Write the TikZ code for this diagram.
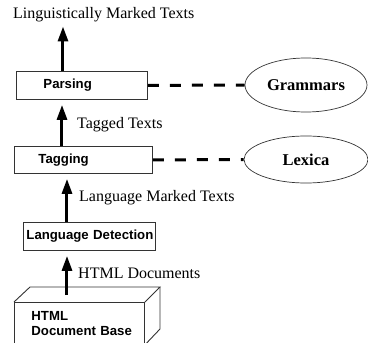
\documentclass[tikz,border=0pt]{standalone}
\usepackage{fontspec}
\setmainfont{Liberation Serif}
\setsansfont{Liberation Sans}
\usetikzlibrary{arrows.meta,shapes.geometric,calc}
\begin{document}
\begin{tikzpicture}[x=1pt,y=-1pt,
  proc/.style={draw=black!80, line width=0.9pt, inner xsep=0pt, inner ysep=0pt, align=left,
    font=\fontsize{13.2}{15}\selectfont\sffamily\bfseries},
  lbl/.style={anchor=west, inner sep=0pt, font=\fontsize{16}{19}\selectfont},
  res/.style={draw=black!80, line width=0.7pt, ellipse, inner sep=0pt,
    font=\fontsize{16.5}{19}\selectfont\bfseries},
  flow/.style={line width=3pt, -{Triangle[width=10pt,length=15pt]}},
  link/.style={line width=3pt, dash pattern=on 11pt off 11pt}]
\useasboundingbox (0,0) rectangle (368,343);

% title
\node[lbl] (title) at (13,15) {Linguistically Marked Texts};

% process boxes
\node[proc, text width=131pt, minimum height=28pt, anchor=north west] (parse) at (16,71) {\hspace*{27pt}Parsing};
\node[proc, text width=138pt, minimum height=27pt, anchor=north west] (tag) at (14,146) {\hspace*{24pt}Tagging};
\node[proc, text width=132pt, minimum height=28pt, anchor=north west] (ld) at (23,222) {\hspace*{3pt}Language Detection};

% resources
\node[res, minimum width=122pt, minimum height=54pt] (gram) at (306,85) {Grammars};
\node[res, minimum width=124pt, minimum height=47pt] (lex) at (306,159.5) {Lexica};

% document base (3D box)
\node[proc, text width=130pt, minimum height=42pt, anchor=north west] (db) at (14,302)
  {\hspace*{17pt}HTML\\\hspace*{17pt}Document Base};
\draw[draw=black!80, line width=0.9pt] (db.north west) -- ++(16,-15) coordinate (tl)
  -- ++(130,0) coordinate (tr) -- (db.north east);
\draw[draw=black!80, line width=0.9pt] (tr) -- ++(0,42) -- (db.south east);

% dashed links
\draw[link] (parse.east) -- (gram.west);
\draw[link] (tag.east) -- (lex.west);

% flow arrows
\coordinate (a1s) at ([xshift=47pt]parse.north west);
\draw[flow, shorten >=4pt] (a1s) -- (a1s |- title.south);
\coordinate (a2s) at ([xshift=48pt]tag.north west);
\draw[flow, shorten >=5pt] (a2s) -- (a2s |- parse.south);
\coordinate (a3s) at ([xshift=44pt]ld.north west);
\draw[flow, shorten >=5pt] (a3s) -- (a3s |- tag.south);
\coordinate (a4s) at ([xshift=53pt,yshift=7pt]db.north west);
\draw[flow, shorten >=5pt] (a4s) -- (a4s |- ld.south);

% flow labels
\node[lbl] (tt) at (77,125) {Tagged Texts};
\node[lbl] (lmt) at (79,198) {Language Marked Texts};
\node[lbl] (hd) at (78,273) {HTML Documents};
\end{tikzpicture}
\end{document}
